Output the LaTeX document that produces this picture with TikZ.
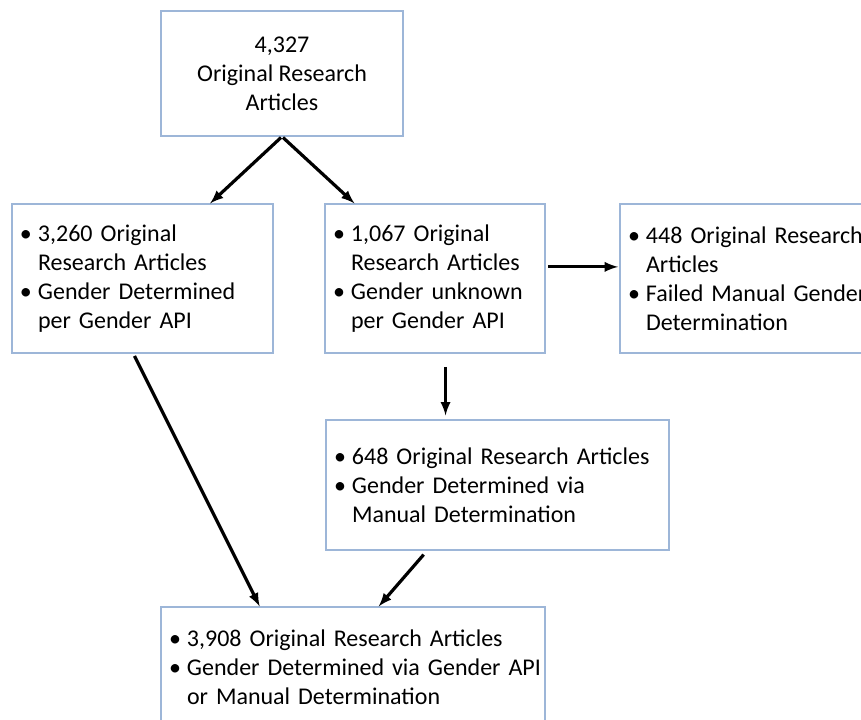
\documentclass[tikz,border=0pt]{standalone}
\usepackage{fontspec}
\setmainfont{Carlito}
\usetikzlibrary{arrows}
\usetikzlibrary{positioning}
\definecolor{BoxBlue}{HTML}{9DB6D8}
\newcommand{\bul}{\hspace*{5pt}\makebox[13.5pt][l]{\textbullet}}
\newcommand{\ind}{\hspace*{18.5pt}}
\tikzset{
  flowbox/.style={draw=BoxBlue, line width=0.9pt, fill=white,
    inner xsep=1pt, inner ysep=0pt, align=left,
    font=\fontsize{18}{21.75}\selectfont},
  flowarrow/.style={-latex, line width=2.4pt, black}
}

\begin{document}
\begin{tikzpicture}[x=0.75pt, y=-0.75pt]
  \useasboundingbox (0,0) rectangle (861,719);
  \clip (0,0) rectangle (861,719);
  \fill[white] (0,0) rectangle (861,719);

  \node[flowbox, align=center, minimum width=181.5pt, minimum height=93.75pt]
    (total) at (282,73.5) {4,327\\ Original Research\\ Articles};

  \node[flowbox, text width=193.75pt, minimum height=111.75pt]
    (api) at (142.5,278.5)
    {\bul 3,260 Original\\ \ind Research Articles\\
     \bul Gender Determined\\ \ind per Gender API};

  \node[flowbox, text width=163pt, minimum height=111.75pt]
    (unknown) at (435,278.5)
    {\bul 1,067 Original\\ \ind Research Articles\\
     \bul Gender unknown\\ \ind per Gender API};

  \node[flowbox, text width=200.5pt, minimum height=111.75pt]
    (failed) at (755,278.5)
    {\bul 448 Original Research\\ \ind Articles\\
     \bul Failed Manual Gender\\ \ind Determination};

  \node[flowbox, text width=255.25pt, minimum height=97.5pt]
    (manual) at (497.5,485)
    {\bul 648 Original Research Articles\\
     \bul Gender Determined via\\ \ind Manual Determination};

  \node[flowbox, text width=286pt, minimum height=90pt]
    (final) at (353,667)
    {\bul 3,908 Original Research Articles\\
     \bul Gender Determined via Gender API\\ \ind or Manual Determination};

  % arrows
  \draw[flowarrow, shorten <=1pt] (total.south) -- (api.48);
  \draw[flowarrow, shorten <=1pt] (total.south) -- (unknown.137);
  \draw[flowarrow, shorten <=2pt, shorten >=1pt] (unknown.6.5) -- (unknown.6.5 -| failed.west);
  \draw[flowarrow, shorten <=10pt, shorten >=3pt] (unknown.-82) -- (unknown.-82 |- manual.north);
  \draw[flowarrow, shorten <=2pt] (api.-97) -- (final.147);
  \draw[flowarrow, shorten <=4pt] (manual.223) -- (final.67);
\end{tikzpicture}
\end{document}
